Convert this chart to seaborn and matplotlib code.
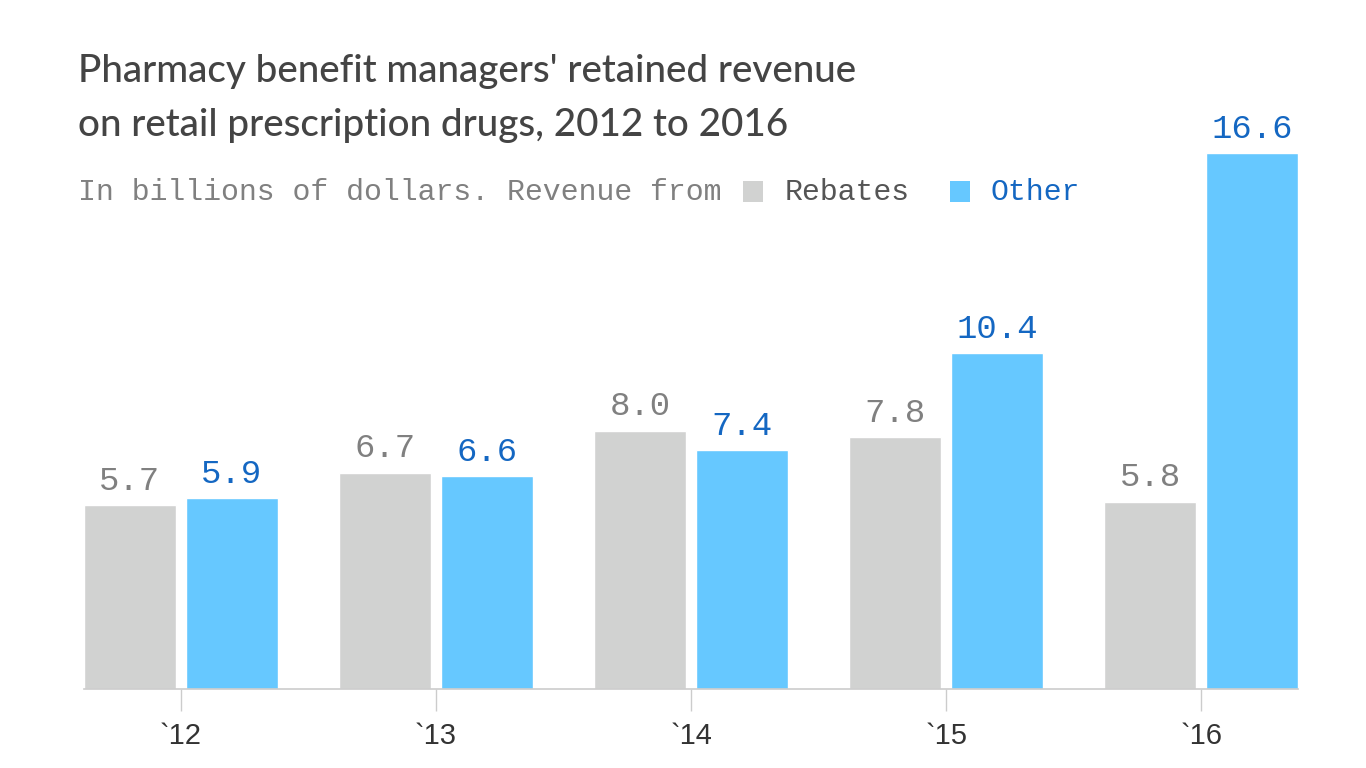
import matplotlib
matplotlib.use("Agg")
import matplotlib.pyplot as plt
import seaborn as sns
import pandas as pd
from matplotlib.patches import Rectangle

years = ["`12", "`13", "`14", "`15", "`16"]
rebates = [5.7, 6.7, 8.0, 7.8, 5.8]
other = [5.9, 6.6, 7.4, 10.4, 16.6]
series = ["Rebates", "Other"]

title_lines = ["Pharmacy benefit managers' retained revenue",
               "on retail prescription drugs, 2012 to 2016"]
subtitle = "In billions of dollars. Revenue from "

gray = "#d1d2d1"
blue = "#66c8ff"
gray_txt = "#808080"
blue_txt = "#1467c2"

df = pd.DataFrame({
    "year": years * 2,
    "value": rebates + other,
    "series": [series[0]] * len(years) + [series[1]] * len(years),
})

sns.set_theme(style="white")
W, H = 1366, 768
fig = plt.figure(figsize=(W / 100, H / 100), dpi=100)
ax_left, ax_right, ax_bot, ax_top = 84, 1298, 689, 140
ax = fig.add_axes([ax_left / W, (H - ax_bot) / H, (ax_right - ax_left) / W, (ax_bot - ax_top) / H])

sns.barplot(data=df, x="year", y="value", hue="series", order=years, hue_order=series,
            palette=[gray, blue], width=0.8, gap=0.1, saturation=1, legend=False, ax=ax)

ax.set_xlim(-0.38, len(years) - 1 + 0.38)
ax.set_ylim(0, 17)
ax.set_xlabel("")
ax.set_ylabel("")
ax.set_yticks([])
for s in ["top", "right", "left"]:
    ax.spines[s].set_visible(False)
ax.spines["bottom"].set_color("#cccccc")
ax.spines["bottom"].set_linewidth(1.2)
ax.tick_params(axis="x", bottom=True, length=16, width=1, color="#cccccc", pad=8,
               labelsize=21, labelcolor="#333333")
for lbl in ax.get_xticklabels():
    lbl.set_fontfamily("Liberation Sans")

for cont, col in zip(ax.containers, [gray_txt, blue_txt]):
    ax.bar_label(cont, fmt="%.1f", padding=6, fontsize=24.5, color=col, family="Liberation Mono")

for i, line in enumerate(title_lines):
    fig.text(78 / W, 1 - (82 + 54 * i) / H, line, ha="left", va="baseline", fontsize=27.8,
             color="#444444", family="Lato", fontweight="medium")

# subtitle with inline legend
renderer = fig.canvas.get_renderer()
y_sub = 1 - 192 / H
t = fig.text(78 / W, y_sub, subtitle, ha="left", va="center", fontsize=21.5, color=gray_txt,
             family="Liberation Mono")
bb = t.get_window_extent(renderer)
x = bb.x1 + 4
for name, fc, tc in [(series[0], gray, "#555555"), (series[1], blue, blue_txt)]:
    fig.patches.append(Rectangle((x / W, (H - 202) / H), 20 / W, 21 / H, transform=fig.transFigure,
                                 facecolor=fc, edgecolor="none"))
    tt = fig.text((x + 41) / W, y_sub, name, ha="left", va="center", fontsize=21.5, color=tc,
                  family="Liberation Mono")
    b2 = tt.get_window_extent(renderer)
    x = b2.x1 + 40

fig.savefig("out.png", dpi=100, facecolor="white")
